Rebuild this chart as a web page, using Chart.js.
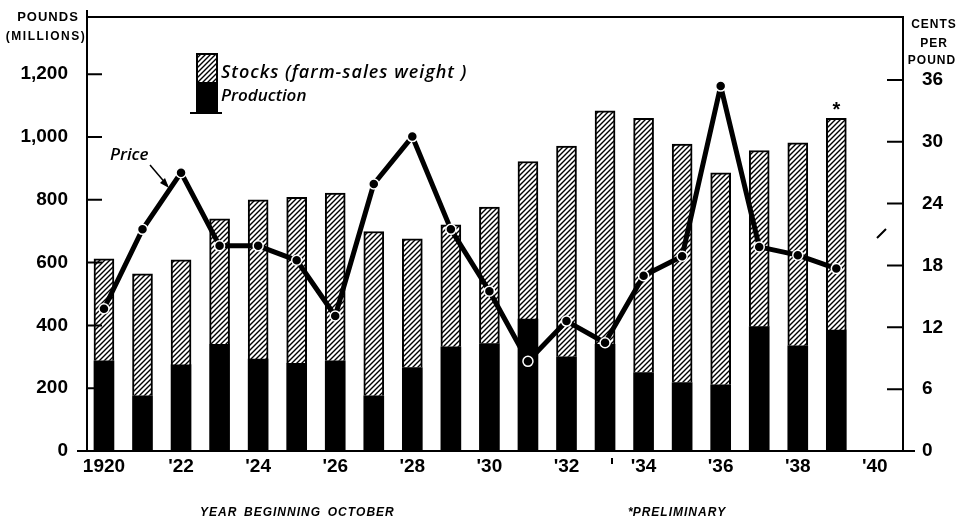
<!DOCTYPE html>
<html>
<head>
<meta charset="utf-8">
<script src="https://cdn.jsdelivr.net/npm/chart.js@4.4.0/dist/chart.umd.min.js"></script>
<style>
  html, body { margin: 0; padding: 0; background: #fff; }
  #wrap { width: 962px; height: 520px; position: relative; }
</style>
</head>
<body>
<div id="wrap"><canvas id="chart"></canvas></div>
<script>
// data
const years = [1920, 1921, 1922, 1923, 1924, 1925, 1926, 1927, 1928, 1929,
               1930, 1931, 1932, 1933, 1934, 1935, 1936, 1937, 1938, 1939]
const production = [287, 176, 274, 340, 293, 279, 287, 176, 266, 332,
                    342, 420, 300, 340, 250, 218, 211, 396, 335, 385]
const stocks = [325, 388, 335, 399, 507, 529, 534, 523, 410, 388,
                435, 502, 671, 743, 809, 759, 675, 561, 646, 674]
const price = [13.8, 21.5, 27.0, 19.9, 19.9, 18.5, 13.1, 25.9, 30.5, 21.5,
               15.5, 8.7, 12.6, 10.5, 17.0, 18.9, 35.4, 19.8, 19.0, 17.7]
const xTickYears = [1920, 1922, 1924, 1926, 1928, 1930, 1932, 1934, 1936, 1938, 1940]
const xTickLabels = ['1920', "'22", "'24", "'26", "'28", "'30", "'32", "'34", "'36", "'38", "'40"]
const poundTicks = [0, 200, 400, 600, 800, 1000, 1200]
const centTicks = [0, 6, 12, 18, 24, 30, 36]

const FONT = '"Liberation Sans", Arial, sans-serif'

function hatch() {
  const c = document.createElement('canvas')
  c.width = 5; c.height = 5
  const g = c.getContext('2d')
  g.fillStyle = '#fff'
  g.fillRect(0, 0, 5, 5)
  g.strokeStyle = '#000'
  g.lineWidth = 1.4
  g.beginPath()
  g.moveTo(-1, 6); g.lineTo(6, -1)
  g.moveTo(-1, 1); g.lineTo(1, -1)
  g.moveTo(4, 6); g.lineTo(6, 4)
  g.stroke()
  return g.createPattern(c, 'repeat')
}
const hatchFill = hatch()

const pts = arr => arr.map((v, i) => ({ x: years[i], y: v }))

// vertical axes should not reserve room for half a label at the top
const noPad = s => { s.paddingTop = 0; s.paddingBottom = 0 }

const decor = {
  id: 'decor',
  afterDraw(chart) {
    const { ctx, chartArea: a, scales } = chart
    ctx.save()
    ctx.strokeStyle = '#000'
    ctx.lineWidth = 2
    // frame bits
    ctx.beginPath()
    ctx.moveTo(a.left, a.top); ctx.lineTo(a.right, a.top)
    ctx.moveTo(a.left, 10); ctx.lineTo(a.left, a.top)
    ctx.moveTo(77, a.bottom); ctx.lineTo(915, a.bottom)
    ctx.stroke()
    // inward tick marks
    ctx.beginPath()
    poundTicks.forEach(v => {
      const y = scales.y.getPixelForValue(v)
      ctx.moveTo(a.left, y); ctx.lineTo(a.left + 15, y)
    })
    centTicks.forEach(v => {
      const y = scales.y1.getPixelForValue(v)
      ctx.moveTo(a.right, y); ctx.lineTo(a.right - 16, y)
    })
    ctx.stroke()

    ctx.fillStyle = '#000'
    // axis titles
    ctx.textAlign = 'center'
    ctx.textBaseline = 'middle'
    ctx.font = 'bold 13px ' + FONT
    ctx.letterSpacing = '1px'
    ctx.fillText('POUNDS', 48, 17)
    ctx.font = 'bold 12px ' + FONT
    ctx.letterSpacing = '1.5px'
    ctx.fillText('(MILLIONS)', 46, 37)
    ctx.letterSpacing = '1px'
    ctx.fillText('CENTS', 934, 25)
    ctx.fillText('PER', 934, 44)
    ctx.fillText('POUND', 932, 61)
    ctx.letterSpacing = '0px'

    // legend glyph
    ctx.fillStyle = hatchFill
    ctx.fillRect(197, 54, 20, 28)
    ctx.fillStyle = '#000'
    ctx.fillRect(197, 82, 20, 30)
    ctx.strokeRect(197, 54, 20, 58)
    ctx.beginPath()
    ctx.moveTo(190, 113); ctx.lineTo(222, 113)
    ctx.stroke()
    ctx.font = 'italic 600 18px "Open Sans", sans-serif'
    ctx.textAlign = 'left'
    ctx.letterSpacing = '1px'
    ctx.fillText('Stocks (farm-sales weight )', 221, 73)
    ctx.letterSpacing = '0px'
    ctx.font = 'italic 600 17px "Open Sans", sans-serif'
    ctx.fillText('Production', 221, 96)

    // price label and arrow
    ctx.fillText('Price', 110, 155)
    ctx.lineWidth = 1.5
    ctx.beginPath()
    ctx.moveTo(150, 165); ctx.lineTo(167, 185)
    ctx.stroke()
    ctx.beginPath()
    ctx.moveTo(169, 188); ctx.lineTo(160, 183); ctx.lineTo(165, 178)
    ctx.closePath(); ctx.fill()

    // preliminary star over last bar
    ctx.font = 'bold 20px ' + FONT
    ctx.textAlign = 'center'
    ctx.fillText('*', scales.x.getPixelForValue(1939), 110)

    // stray pen marks
    ctx.lineWidth = 2
    ctx.beginPath()
    ctx.moveTo(877, 238); ctx.lineTo(886, 229)
    ctx.moveTo(612, 458); ctx.lineTo(612, 464)
    ctx.stroke()

    // footer
    ctx.font = 'italic bold 12px ' + FONT
    ctx.textAlign = 'left'
    ctx.fillText('Y E A R   B E G I N N I N G   O C T O B E R'.replace(/ (?! )/g, '\u200a'), 200, 513)
    ctx.fillText('*P R E L I M I N A R Y'.replace(/ (?! )/g, '\u200a'), 628, 513)
    ctx.restore()
  }
}

new Chart(document.getElementById('chart'), {
  type: 'bar',
  data: {
    datasets: [
      {
        type: 'line',
        label: 'Price',
        data: pts(price),
        yAxisID: 'y1',
        borderColor: '#000',
        borderWidth: 5,
        borderJoinStyle: 'round',
        pointRadius: 5,
        pointBackgroundColor: '#000',
        pointBorderColor: '#fff',
        pointBorderWidth: 1.5,
        tension: 0,
        order: 0
      },
      {
        label: 'Production',
        data: pts(production),
        backgroundColor: '#000',
        borderColor: '#000',
        borderWidth: 0,
        barThickness: 20,
        yAxisID: 'y',
        order: 1
      },
      {
        label: 'Stocks (farm-sales weight)',
        data: pts(stocks),
        backgroundColor: hatchFill,
        borderColor: '#000',
        borderWidth: 2,
        borderSkipped: 'bottom',
        barThickness: 20,
        yAxisID: 'y',
        order: 1
      }
    ]
  },
  options: {
    responsive: true,
    maintainAspectRatio: false,
    animation: false,
    layout: { padding: { top: 17, left: 0, right: 0, bottom: 0 } },
    plugins: {
      legend: { display: false },
      tooltip: { enabled: false }
    },
    scales: {
      x: {
        type: 'linear',
        offset: false,
        min: 1919.56,
        max: 1940.73,
        stacked: true,
        grid: { display: false, drawTicks: false, offset: false },
        border: { color: '#000', width: 2 },
        afterBuildTicks: s => { s.ticks = xTickYears.map(v => ({ value: v })) },
        afterFit: s => { s.height = 69 },
        ticks: {
          autoSkip: false,
          maxRotation: 0,
          padding: 4,
          color: '#000',
          font: { family: FONT, size: 19, weight: 'bold' },
          callback: v => xTickLabels[xTickYears.indexOf(v)]
        }
      },
      y: {
        position: 'left',
        min: 0,
        max: 1382,
        stacked: true,
        grid: { display: false, drawTicks: false },
        border: { color: '#000', width: 2 },
        afterBuildTicks: s => { s.ticks = poundTicks.map(v => ({ value: v })) },
        afterFit: s => { s.width = 87; noPad(s) },
        ticks: {
          padding: 19,
          color: '#000',
          font: { family: FONT, size: 19, weight: 'bold' },
          callback: v => v.toLocaleString('en-US')
        }
      },
      y1: {
        position: 'right',
        min: 0,
        max: 42.1,
        grid: { display: false, drawTicks: false },
        border: { color: '#000', width: 2 },
        afterBuildTicks: s => { s.ticks = centTicks.map(v => ({ value: v })) },
        afterFit: s => { s.width = 59; noPad(s) },
        ticks: {
          padding: 19,
          color: '#000',
          font: { family: FONT, size: 19, weight: 'bold' }
        }
      }
    }
  },
  plugins: [decor]
})
</script>
</body>
</html>
